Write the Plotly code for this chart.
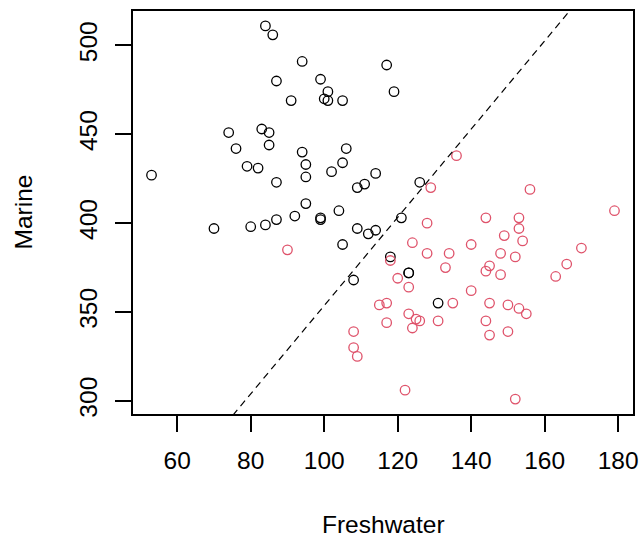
import plotly.graph_objects as go

# Alaskan salmon (black)
alaska_freshwater = [108,131,105,86,99,87,94,117,79,99,114,123,123,109,112,104,111,126,105,119,
                     114,100,84,102,101,85,109,106,82,118,105,121,85,83,53,95,76,95,87,70,
                     84,91,74,101,80,95,92,99,94,87]
alaska_marine = [368,355,469,506,402,423,440,489,432,403,428,372,372,420,394,407,422,423,434,474,
                 396,470,399,429,469,444,397,442,431,381,388,403,451,453,427,411,442,426,402,397,
                 511,469,451,474,398,433,404,481,491,480]

# Canadian salmon (red)
canada_freshwater = [129,148,179,152,166,124,156,131,140,144,149,108,135,170,152,153,136,122,148,90,
                     145,123,145,115,134,117,126,118,120,153,150,154,155,109,117,128,144,163,145,133,
                     128,123,144,140,150,124,125,153,108]
canada_marine = [420,371,407,381,377,389,419,345,362,345,393,330,355,386,301,397,438,306,383,385,
                 337,364,376,354,383,355,345,379,369,403,354,390,349,325,344,400,403,370,355,375,
                 383,349,373,388,339,341,346,352,339]

# discriminant boundary: Marine = intercept + slope * Freshwater
boundary_intercept = 105.3
boundary_slope = 2.483

x_ticks = [60, 80, 100, 120, 140, 160, 180]
y_ticks = [300, 350, 400, 450, 500]

allx = alaska_freshwater + canada_freshwater
ally = alaska_marine + canada_marine
xpad = (max(allx) - min(allx)) * 0.04
ypad = (max(ally) - min(ally)) * 0.04
xr = [min(allx) - xpad, max(allx) + xpad]
yr = [min(ally) - ypad, max(ally) + ypad]

FONT = "Liberation Sans, Arial, sans-serif"
FS = 24.5

fig = go.Figure()
fig.add_trace(go.Scatter(
    x=alaska_freshwater, y=alaska_marine, mode="markers", name="Alaska",
    marker=dict(symbol="circle-open", size=9.5, color="#000000", line=dict(width=1.3, color="#000000")),
))
fig.add_trace(go.Scatter(
    x=canada_freshwater, y=canada_marine, mode="markers", name="Canada",
    marker=dict(symbol="circle-open", size=9.5, color="#DF536B", line=dict(width=1.3, color="#DF536B")),
))
fig.add_trace(go.Scatter(
    x=xr, y=[boundary_intercept + boundary_slope * v for v in xr], mode="lines",
    line=dict(color="#000000", width=1.2, dash="7px,5px"), name="boundary",
))

axis_common = dict(
    showline=True, mirror=True, linecolor="#000000", linewidth=1.5,
    ticks="outside", ticklen=16, tickwidth=1.5, tickcolor="#000000",
    showgrid=False, zeroline=False, automargin=False,
    tickfont=dict(family=FONT, size=FS, color="#000000"),
)
fig.update_xaxes(range=xr, tickvals=x_ticks, ticktext=[str(v) for v in x_ticks],
                 ticklabelstandoff=8, **axis_common)
fig.update_yaxes(range=yr, tickvals=y_ticks, ticktext=[str(v) for v in y_ticks],
                 tickangle=-90, ticklabelstandoff=8, **axis_common)

fig.add_annotation(text="Freshwater", xref="paper", yref="paper", x=0.5, y=0,
                   xanchor="center", yanchor="middle", yshift=-110, showarrow=False,
                   font=dict(family=FONT, size=FS, color="#000000"))
fig.add_annotation(text="Marine", xref="paper", yref="paper", x=0, y=0.5,
                   xanchor="center", yanchor="middle", xshift=-110, textangle=-90, showarrow=False,
                   font=dict(family=FONT, size=FS, color="#000000"))

fig.update_layout(
    width=643, height=541,
    margin=dict(l=133, r=10, t=11, b=127),
    paper_bgcolor="white", plot_bgcolor="white",
    showlegend=False,
)
fig.write_html("out.html", config={"displayModeBar": False},
               post_script="document.body.style.margin='0';document.body.style.overflow='hidden';")
